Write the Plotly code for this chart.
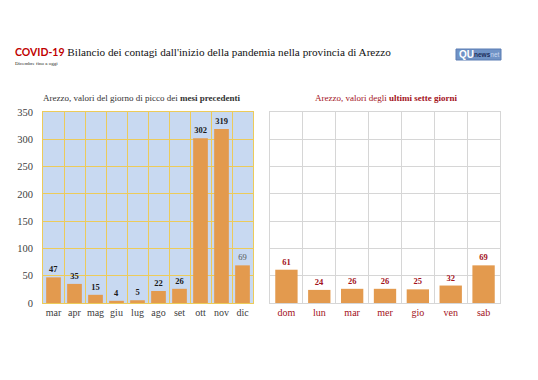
import plotly.graph_objects as go

months = ["mar", "apr", "mag", "giu", "lug", "ago", "set", "ott", "nov", "dic"]
month_peaks = [47, 35, 15, 4, 5, 22, 26, 302, 319, 69]
days = ["dom", "lun", "mar", "mer", "gio", "ven", "sab"]
day_values = [61, 24, 26, 26, 25, 32, 69]
y_ticks = [0, 50, 100, 150, 200, 250, 300, 350]

OFF = 8  # page body margin
W, H = 538 - 2 * OFF, 380 - 2 * OFF  # fit the window exactly, no overflow
BAR = "#e39a4e"
RED = "#a3121b"
SERIF = "Liberation Serif, Times New Roman, serif"

def px(x):
    return (x - OFF) / W

def py(y):
    return 1 - (y - OFF) / H

month_text = ["<b>%d</b>" % v for v in month_peaks[:-1]] + ["%d" % month_peaks[-1]]
month_text_colors = ["#1a1a1a"] * (len(month_peaks) - 1) + ["#555555"]

fig = go.Figure()
fig.add_trace(go.Bar(
    x=months, y=month_peaks, xaxis="x", yaxis="y",
    marker=dict(color=BAR, line=dict(width=0)), width=0.7,
    text=month_text, textposition="outside", cliponaxis=False,
    textfont=dict(family=SERIF, size=8.5, color=month_text_colors),
    hoverinfo="x+y", showlegend=False,
))
fig.add_trace(go.Bar(
    x=days, y=day_values, xaxis="x2", yaxis="y2",
    marker=dict(color=BAR, line=dict(width=0)), width=0.68,
    text=["<b>%d</b>" % v for v in day_values], textposition="outside", cliponaxis=False,
    textfont=dict(family=SERIF, size=8.5, color=RED),
    hoverinfo="x+y", showlegend=False,
))

gold = "#eccb5a"
grey = "#d6d6d6"
fig.update_layout(
    width=W, height=H,
    margin=dict(l=0, r=0, t=0, b=0, autoexpand=False),
    paper_bgcolor="white",
    bargap=0.3,
    uniformtext=dict(minsize=6, mode="show"),
    xaxis=dict(domain=[px(43), px(253)], anchor="y", tickson="boundaries",
               automargin=False,
               showgrid=True, gridcolor=gold, gridwidth=1, ticks="",
               showline=True, linecolor=gold, mirror=True, tickangle=0,
               tickfont=dict(family=SERIF, size=10, color="#404040")),
    yaxis=dict(domain=[py(303), py(112)], anchor="x", range=[0, 350],
               automargin=False,
               tickvals=y_ticks, showgrid=True, gridcolor=gold, gridwidth=1,
               showline=True, linecolor=gold, mirror=True, zeroline=False,
               ticks="", ticklabelstandoff=7,
               tickfont=dict(family=SERIF, size=10.5, color="#404040")),
    xaxis2=dict(domain=[px(270), px(500)], anchor="y2", tickson="boundaries",
                automargin=False,
                showgrid=True, gridcolor=grey, gridwidth=1, ticks="",
                showline=True, linecolor=grey, mirror=True, tickangle=0,
                tickfont=dict(family=SERIF, size=10, color=RED)),
    yaxis2=dict(domain=[py(303), py(112)], anchor="x2", range=[0, 350],
                automargin=False,
                tickvals=y_ticks, showticklabels=False, showgrid=True,
                gridcolor=grey, gridwidth=1, showline=True, linecolor=grey,
                mirror=True, zeroline=False, ticks=""),
    plot_bgcolor="white",
)

# light blue background for left panel
fig.add_shape(type="rect", xref="paper", yref="paper", layer="below",
              x0=px(43), x1=px(253), y0=py(303), y1=py(112),
              fillcolor="#c8d9f1", line=dict(width=0))

ann = []
ann.append(dict(x=px(13), y=py(52), xanchor="left", yanchor="middle",
                text="<span style='font-family:Lato, Open Sans, sans-serif;color:#c00000;font-size:10.5px'><b>COVID-19</b></span>"
                     " Bilancio dei contagi dall'inizio della pandemia nella provincia di Arezzo",
                font=dict(family=SERIF, size=11.2, color="#111111"), showarrow=False))
ann.append(dict(x=px(13), y=py(63), xanchor="left", yanchor="middle",
                text="Dicembre fino a oggi",
                font=dict(family=SERIF, size=5, color="#222222"), showarrow=False))
ann.append(dict(x=px(142), y=py(98), xanchor="center", yanchor="middle",
                text="Arezzo, valori del giorno di picco dei <b>mesi precedenti</b>",
                font=dict(family=SERIF, size=9, color="#333333"), showarrow=False))
ann.append(dict(x=px(386), y=py(98), xanchor="center", yanchor="middle",
                text="Arezzo, valori degli <b>ultimi sette giorni</b>",
                font=dict(family=SERIF, size=9, color=RED), showarrow=False))

# logo
fig.add_shape(type="rect", xref="paper", yref="paper",
              x0=px(456), x1=px(501), y0=py(60), y1=py(49),
              fillcolor="#7093c6", line=dict(color="#5a7db3", width=1))
ann.append(dict(x=px(457), y=py(54.5), xanchor="left", yanchor="middle",
                text="<b>QU</b>", font=dict(family="Liberation Sans, Arial, sans-serif", size=10, color="white"),
                showarrow=False))
ann.append(dict(x=px(472), y=py(55), xanchor="left", yanchor="middle",
                text="<b>news</b><span style='color:#c9d8ee'>net</span>",
                font=dict(family="Liberation Sans, Arial, sans-serif", size=6.5, color="#1c2f5a"),
                showarrow=False))
for a in ann:
    a["xref"] = "paper"
    a["yref"] = "paper"
fig.update_layout(annotations=ann)

fig.write_html("out.html")
